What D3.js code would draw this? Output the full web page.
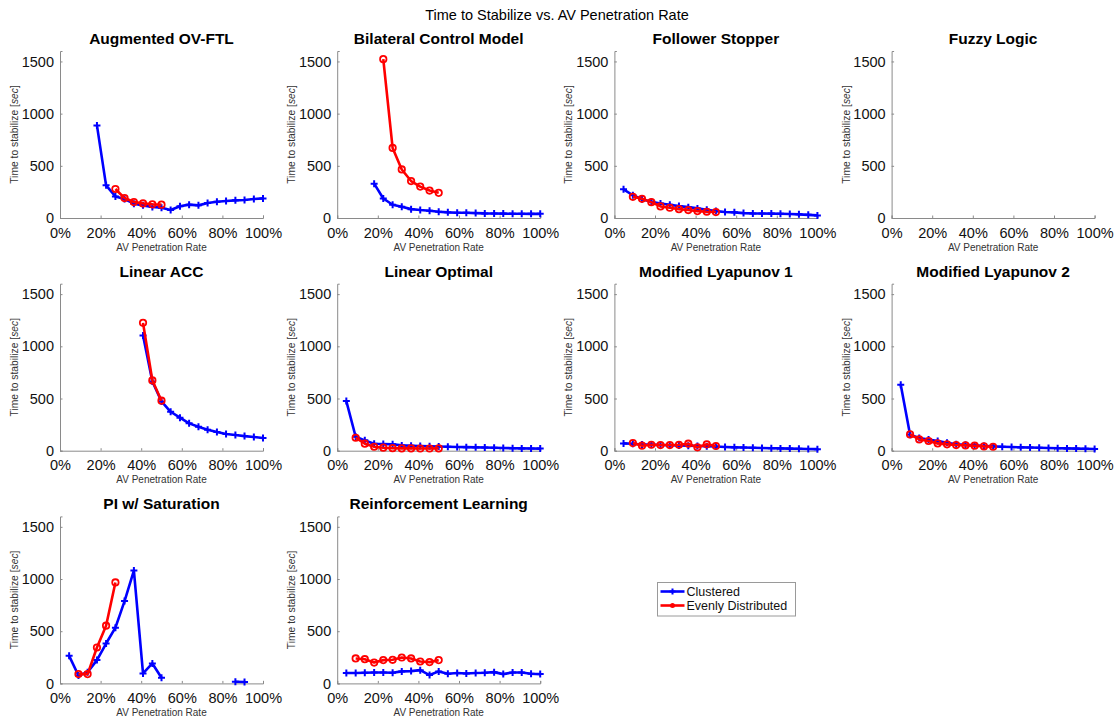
<!DOCTYPE html>
<html>
<head>
<meta charset="utf-8">
<script src="https://cdn.jsdelivr.net/npm/d3@7"></script>
<style>
  html, body { margin: 0; padding: 0; background: #fff; }
  svg { display: block; font-family: "Liberation Sans", Arial, Helvetica, sans-serif; }
</style>
</head>
<body>
<svg id="chart" width="1115" height="719"></svg>
<script>
// AV penetration rate (%) for 1..22 automated vehicles in a 22-car ring
const penetrationRates = [4.5, 9.1, 13.6, 18.2, 22.7, 27.3, 31.8, 36.4, 40.9, 45.5, 50.0,
                          54.5, 59.1, 63.6, 68.2, 72.7, 77.3, 81.8, 86.4, 90.9, 95.5, 100];

const xTicks = [0, 20, 40, 60, 80, 100];
const yTicks = [0, 500, 1000, 1500];

const controllerNames = ["Augmented OV-FTL", "Bilateral Control Model", "Follower Stopper", "Fuzzy Logic",
                         "Linear ACC", "Linear Optimal", "Modified Lyapunov 1", "Modified Lyapunov 2",
                         "PI w/ Saturation", "Reinforcement Learning"];

const seriesNames = ["Clustered", "Evenly Distributed"];

// Time to stabilize [sec]; null = did not stabilize / not run
const augOvFtlClustered = [null, null, null, 887, 313, 207, 182, 137, 121, 105, 99, 77, 112, 128, 121, 144, 156, 163, 169, 172, 182, 188];
const augOvFtlEven      = [null, null, null, null, null, 278, 191, 153, 140, 131, 128, null, null, null, null, null, null, null, null, null, null, null];

const bcmClustered = [null, null, null, 329, 187, 127, 108, 85, 76, 70, 60, 54, 51, 51, 47, 44, 43, 42, 41, 40, 40, 40];
const bcmEven      = [null, null, null, null, 1522, 671, 465, 354, 301, 263, 241, null, null, null, null, null, null, null, null, null, null, null];

const followerStopperClustered = [275, 218, 180, 155, 139, 127, 114, 104, 92, 79, 66, 57, 54, 47, 44, 43, 42, 40, 38, 35, 30, 25];
const followerStopperEven      = [null, 203, 184, 152, 111, 98, 85, 76, 66, 60, 57, null, null, null, null, null, null, null, null, null, null, null];

const fuzzyLogicClustered = new Array(22).fill(null);
const fuzzyLogicEven      = new Array(22).fill(null);

const linearAccClustered = [null, null, null, null, null, null, null, null, 1104, 664, 472, 373, 316, 262, 230, 201, 179, 160, 150, 140, 131, 121];
const linearAccEven      = [null, null, null, null, null, null, null, null, 1225, 673, 479, null, null, null, null, null, null, null, null, null, null, null];

const linearOptimalClustered = [475, 134, 99, 67, 64, 61, 51, 48, 45, 42, 40, 38, 36, 34, 32, 30, 28, 26, 24, 22, 21, 20];
const linearOptimalEven      = [null, 124, 67, 38, 29, 24, 22, 22, 21, 21, 22, null, null, null, null, null, null, null, null, null, null, null];

const lyapunov1Clustered = [70, 66, 60, 58, 55, 52, 50, 48, 45, 42, 40, 36, 32, 30, 28, 26, 24, 22, 20, 18, 16, 15];
const lyapunov1Even      = [null, 73, 48, 57, 54, 54, 57, 67, 32, 61, 45, null, null, null, null, null, null, null, null, null, null, null];

const lyapunov2Clustered = [632, 153, 121, 108, 93, 77, 61, 57, 51, 45, 41, 38, 35, 32, 30, 28, 26, 24, 22, 20, 18, 16];
const lyapunov2Even      = [null, 156, 108, 93, 70, 61, 54, 51, 48, 41, 38, null, null, null, null, null, null, null, null, null, null, null];

const piSaturationClustered = [264, 76, 108, 223, 382, 534, 789, 1081, 95, 191, 54, null, null, null, null, null, null, null, 16, 13, null, null];
const piSaturationEven      = [null, 89, 89, 344, 553, 967, null, null, null, null, null, null, null, null, null, null, null, null, null, null, null, null];

const rlClustered = [99, 99, 102, 105, 105, 102, 115, 118, 127, 80, 115, 92, 99, 95, 99, 102, 108, 89, 105, 105, 92, 89];
const rlEven      = [null, 239, 232, 200, 223, 226, 248, 239, 210, 204, 223, null, null, null, null, null, null, null, null, null, null, null];

const clusteredByController = [augOvFtlClustered, bcmClustered, followerStopperClustered, fuzzyLogicClustered,
  linearAccClustered, linearOptimalClustered, lyapunov1Clustered, lyapunov2Clustered, piSaturationClustered, rlClustered];
const evenByController = [augOvFtlEven, bcmEven, followerStopperEven, fuzzyLogicEven,
  linearAccEven, linearOptimalEven, lyapunov1Even, lyapunov2Even, piSaturationEven, rlEven];

// ---- layout ----
const svg = d3.select("#chart");
const panelW = 203, panelH = 167;
const colX = c => 60 + c * 277.2;
const rowY = r => 51 + r * 232.7;
const BLUE = "#0000ff", RED = "#ff0000", AXIS = "#8a8a8a";

svg.append("text")
  .attr("x", 557).attr("y", 20)
  .attr("text-anchor", "middle")
  .attr("font-size", 14.5)
  .text("Time to Stabilize vs. AV Penetration Rate");

const x = d3.scaleLinear().domain([0, 100]).range([0, panelW]);
const y = d3.scaleLinear().domain([0, 1600]).range([panelH, 0]);

function plusMarker(sel, color) {
  sel.append("path")
    .attr("d", "M-3.5,0H3.5M0,-3.5V3.5")
    .attr("stroke", color).attr("stroke-width", 2).attr("fill", "none");
}
function circleMarker(sel, color) {
  sel.append("circle").attr("r", 3.2)
    .attr("stroke", color).attr("stroke-width", 1.8).attr("fill", "none");
}

controllerNames.forEach((name, i) => {
  const col = i % 4, row = Math.floor(i / 4);
  const g = svg.append("g").attr("transform", `translate(${colX(col)},${rowY(row)})`);

  // axes
  const xAxis = g.append("g").attr("transform", `translate(0,${panelH})`)
    .call(d3.axisBottom(x).tickValues(xTicks).tickSize(-2.5).tickPadding(9.5).tickFormat(d => d + "%"));
  const yAxis = g.append("g")
    .call(d3.axisLeft(y).tickValues(yTicks).tickSize(-2.5).tickPadding(6).tickFormat(d3.format("d")));
  [xAxis, yAxis].forEach(a => {
    a.select(".domain").attr("stroke", AXIS).attr("stroke-width", 1);
    a.selectAll(".tick line").attr("stroke", AXIS);
    a.selectAll(".tick text").attr("font-size", 14.5).attr("fill", "#111")
      .attr("font-family", "Liberation Sans, Arial, sans-serif");
  });

  g.append("text")
    .attr("x", panelW / 2).attr("y", -7)
    .attr("text-anchor", "middle")
    .attr("font-size", 15.5).attr("font-weight", "bold")
    .text(name);

  g.append("text")
    .attr("x", panelW / 2).attr("y", panelH + 32.5)
    .attr("text-anchor", "middle")
    .attr("font-size", 10).attr("fill", "#333")
    .text("AV Penetration Rate");

  const yl = g.append("text")
    .attr("transform", `translate(-42,${panelH / 2}) rotate(-90)`)
    .attr("text-anchor", "middle")
    .attr("font-size", 10.3).attr("fill", "#333");
  yl.append("tspan").text("Time to stabilize [");
  yl.append("tspan").attr("font-style", "italic").text("sec");
  yl.append("tspan").text("]");

  const series = [
    { values: clusteredByController[i], color: BLUE, marker: plusMarker },
    { values: evenByController[i], color: RED, marker: circleMarker }
  ];
  series.forEach(s => {
    const pts = penetrationRates.map((r, k) => ({ r, v: s.values[k] }));
    const line = d3.line().defined(d => d.v != null).x(d => x(d.r)).y(d => y(d.v));
    g.append("path").datum(pts)
      .attr("d", line).attr("fill", "none")
      .attr("stroke", s.color).attr("stroke-width", 2.6).attr("stroke-linejoin", "round");
    pts.filter(d => d.v != null).forEach(d => {
      const m = g.append("g").attr("transform", `translate(${x(d.r)},${y(d.v)})`);
      s.marker(m, s.color);
    });
  });
});

// legend
const lg = svg.append("g").attr("transform", "translate(657.5,582.5)");
lg.append("rect").attr("width", 138).attr("height", 33.5)
  .attr("fill", "#fff").attr("stroke", "#9a9a9a").attr("stroke-width", 1);
[{ c: BLUE, y: 9 }, { c: RED, y: 23 }].forEach((e, k) => {
  lg.append("line").attr("x1", 3).attr("x2", 27).attr("y1", e.y).attr("y2", e.y)
    .attr("stroke", e.c).attr("stroke-width", 2.6);
  if (k === 0) {
    lg.append("path").attr("d", `M12,${e.y}H18M15,${e.y - 3}V${e.y + 3}`).attr("stroke", e.c).attr("stroke-width", 2);
  } else {
    lg.append("circle").attr("cx", 15).attr("cy", e.y).attr("r", 2.5).attr("fill", e.c);
  }
  lg.append("text").attr("x", 29).attr("y", e.y + 4.5)
    .attr("font-size", 12.5).attr("fill", "#111").text(seriesNames[k]);
});
</script>
</body>
</html>
